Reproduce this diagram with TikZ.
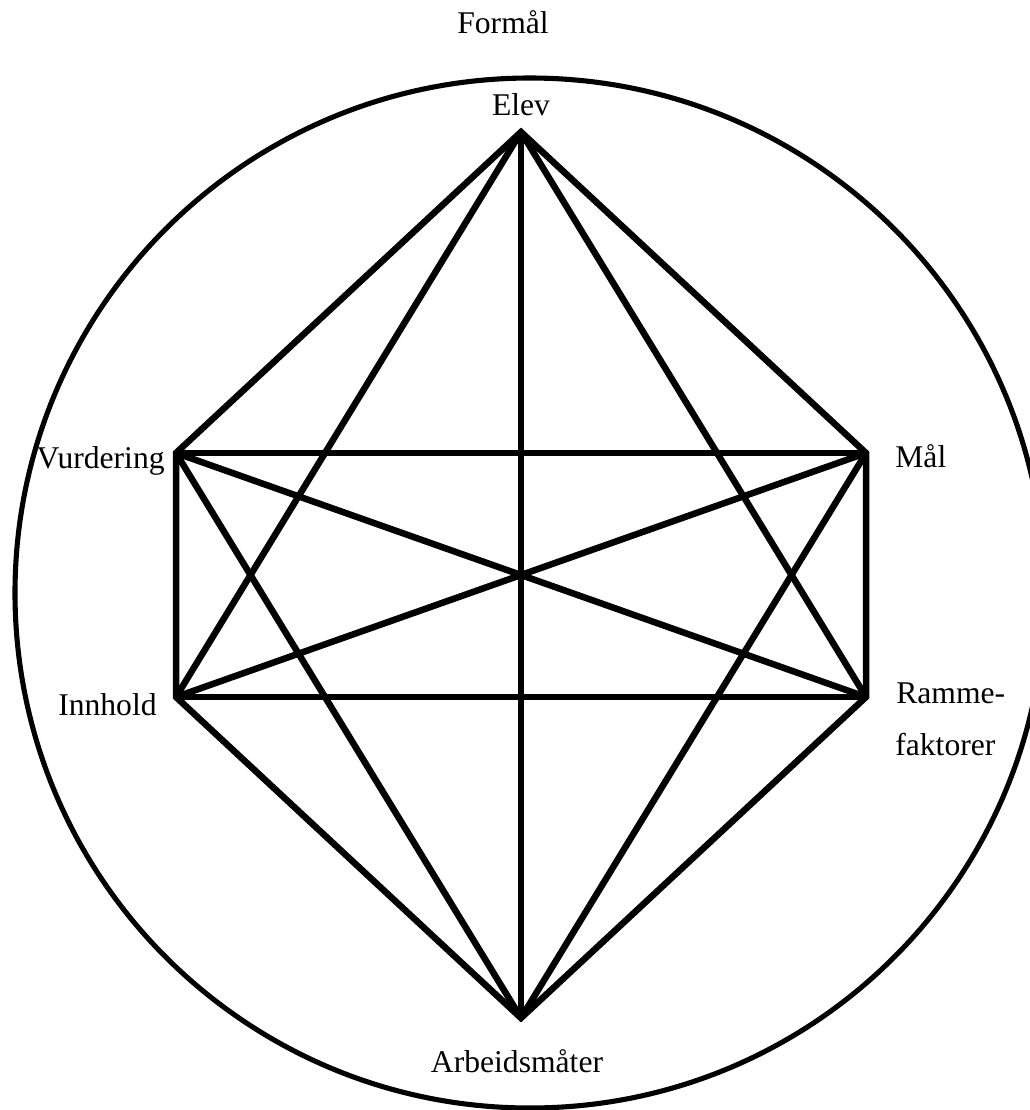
\documentclass[tikz,border=0pt]{standalone}
\usepackage{fontspec}
\setmainfont{Liberation Serif}
\usepackage{tikz}

\begin{document}
\begin{tikzpicture}[x=0.02cm, y=-0.02cm,
    edge/.style={line width=3.7pt},
    lbl/.style={anchor=base, inner sep=0pt, font=\fontsize{18}{22}\selectfont}]
    \clip (0,0) rectangle (1030,1110);
    % Outer circle
    \draw[line width=2.9pt] (530,593) circle (515);
    % Corners
    \coordinate (elev) at (521,132);
    \coordinate (maal) at (866,453);
    \coordinate (ramme) at (866,697);
    \coordinate (arbeid) at (521,1018);
    \coordinate (innhold) at (176,697);
    \coordinate (vurd) at (176,453);
    % Hexagon
    \draw[edge] (elev) -- (maal) -- (ramme) -- (arbeid) -- (innhold) -- (vurd) -- cycle;
    % Diagonals
    \draw[edge] (elev) -- (arbeid);
    \draw[edge] (elev) -- (ramme);
    \draw[edge] (elev) -- (innhold);
    \draw[edge] (maal) -- (vurd);
    \draw[edge] (maal) -- (innhold);
    \draw[edge] (maal) -- (arbeid);
    \draw[edge] (vurd) -- (ramme);
    \draw[edge] (vurd) -- (arbeid);
    \draw[edge] (innhold) -- (ramme);
    % Labels
    \node[lbl] (formaal) at (503,33) {Formål};
    \node[lbl] (elevtxt) at (521,115) {Elev};
    \node[lbl, anchor=base east] (vurdtxt) at (165,468) {Vurdering};
    \node[lbl, anchor=base east] (innholdtxt) at (157,715) {Innhold};
    \node[lbl, anchor=base west] (maaltxt) at (895,467) {Mål};
    \node[lbl, anchor=base west] (rammetxt) at (896,703) {Ramme-};
    \node[lbl, anchor=base west] (faktorer) at (895,755) {faktorer};
    \node[lbl] (arbeidtxt) at (517,1072) {Arbeidsmåter};
\end{tikzpicture}
\end{document}
